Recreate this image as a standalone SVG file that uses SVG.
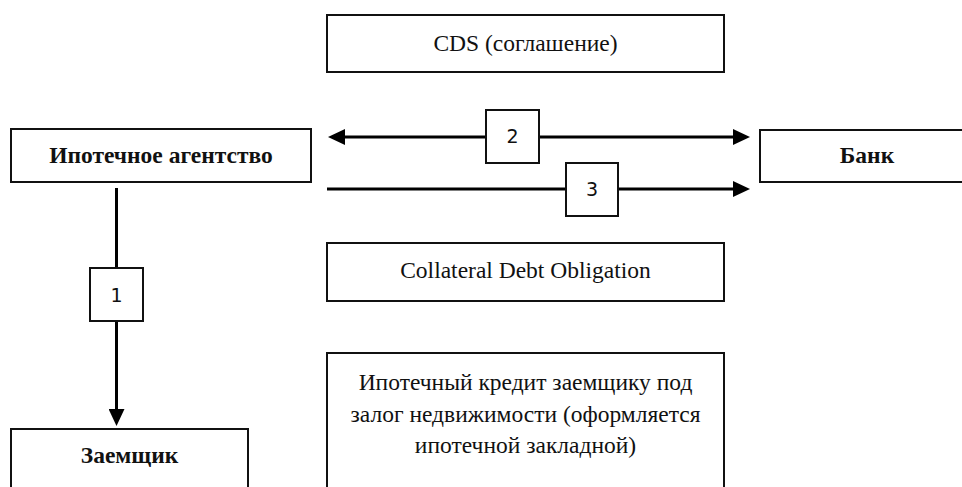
<svg xmlns="http://www.w3.org/2000/svg" width="962" height="487" viewBox="0 0 962 487">
  <style>
    .box { fill: #ffffff; stroke: #111111; stroke-width: 2; }
    .tag { fill: #ffffff; stroke: #111111; stroke-width: 2; }
    .t { font-family: 'Liberation Serif', 'DejaVu Serif', serif; font-size: 23.5px; fill: #111111; text-anchor: middle; }
    .b { font-weight: bold; }
    .n { font-family: 'DejaVu Sans', 'Liberation Sans', sans-serif; font-size: 19px; fill: #111111; text-anchor: middle; }
    .conn { stroke: #000000; stroke-width: 3; fill: none; }
  </style>
  <defs>
    <marker id="ah" viewBox="0 0 17 16" refX="7" refY="8" markerWidth="17" markerHeight="16" markerUnits="userSpaceOnUse" orient="auto-start-reverse">
      <path d="M0,0 L17,8 L0,16 Z" fill="#000000"/>
    </marker>
  </defs>
  <rect x="0" y="0" width="962" height="487" fill="#ffffff"/>

  <g id="connectors">
    <line class="conn" x1="338" y1="137" x2="740" y2="137" marker-start="url(#ah)" marker-end="url(#ah)"/>
    <line class="conn" x1="327" y1="189" x2="740" y2="189" marker-end="url(#ah)"/>
    <line class="conn" x1="116.5" y1="188" x2="116.5" y2="416" marker-end="url(#ah)"/>
  </g>

  <g id="label-2">
    <rect class="tag" x="486" y="110" width="53" height="53"/>
    <text class="n" x="512.5" y="143">2</text>
  </g>
  <g id="label-3">
    <rect class="tag" x="566" y="163" width="52" height="53"/>
    <text class="n" x="592" y="196">3</text>
  </g>
  <g id="label-1">
    <rect class="tag" x="90" y="268" width="53" height="53"/>
    <text class="n" x="116.5" y="301.5">1</text>
  </g>

  <g id="cds">
    <rect class="box" x="327" y="15" width="397" height="57"/>
    <text class="t" x="525.5" y="51">CDS (соглашение)</text>
  </g>
  <g id="agency">
    <rect class="box" x="11" y="129" width="300" height="53"/>
    <text class="t b" x="161" y="163">Ипотечное агентство</text>
  </g>
  <g id="bank">
    <rect class="box" x="760" y="130" width="214" height="52"/>
    <text class="t b" x="867" y="163">Банк</text>
  </g>
  <g id="cdo">
    <rect class="box" x="327" y="243" width="397" height="58"/>
    <text class="t" x="525.5" y="278">Collateral Debt Obligation</text>
  </g>
  <g id="mortgage">
    <rect class="box" x="327" y="353" width="397" height="150"/>
    <text class="t" x="525.5" y="390">Ипотечный кредит заемщику под</text>
    <text class="t" x="525.5" y="421.5">залог недвижимости (оформляется</text>
    <text class="t" x="525.5" y="453">ипотечной закладной)</text>
  </g>
  <g id="borrower">
    <rect class="box" x="11" y="429" width="237" height="80"/>
    <text class="t b" x="129.5" y="463">Заемщик</text>
  </g>
</svg>
